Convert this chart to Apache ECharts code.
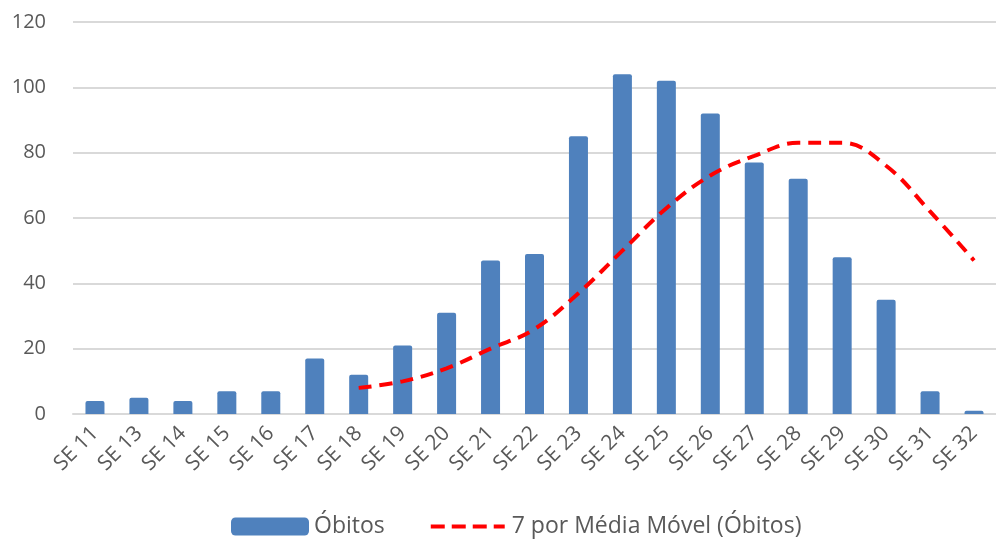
<!DOCTYPE html>
<html>
<head>
<meta charset="utf-8">
<script src="https://cdn.jsdelivr.net/npm/echarts@6/dist/echarts.min.js"></script>
<style>
  html, body { margin: 0; padding: 0; background: #fff; }
  #chart { width: 996px; height: 540px; }
</style>
</head>
<body>
<div id="chart"></div>
<script>
var semanas = ["SE 11", "SE 13", "SE 14", "SE 15", "SE 16", "SE 17", "SE 18", "SE 19", "SE 20", "SE 21", "SE 22",
  "SE 23", "SE 24", "SE 25", "SE 26", "SE 27", "SE 28", "SE 29", "SE 30", "SE 31", "SE 32"];
var obitos = [4, 5, 4, 7, 7, 17, 12, 21, 31, 47, 49, 85, 104, 102, 92, 77, 72, 48, 35, 7, 1];
// média móvel começa em SE 18
var mediaMovel = ["-", "-", "-", "-", "-", "-", 8, 10, 14, 20, 26, 37, 50, 63, 73, 79, 83, 83, 76, 62, 47];
var yTicks = { min: 0, max: 120, interval: 20 };

var fonte = "'Open Sans', 'DejaVu Sans', sans-serif";
// ícone tracejado da legenda (pontinhos nos cantos só para fixar a altura)
var iconeTracejado = "path://M0,-7h0.01v0.01h-0.01Z M0,11h0.01v0.01h-0.01Z " +
  "M0,0h14v4h-14Z M21,0h14v4h-14Z M42,0h14v4h-14Z M63,0h11v4h-11Z";

var chart = echarts.init(document.getElementById("chart"));
chart.setOption({
  animation: false,
  grid: {
    left: 73,
    top: 22,
    width: 936,
    height: 392,
  },
  legend: {
    top: 515,
    left: 231,
    padding: 0,
    itemWidth: 78,
    itemHeight: 18,
    itemGap: 46,
    textStyle: { color: "#595959", fontSize: 23, fontFamily: fonte },
    data: [
      { name: "Óbitos" },
      { name: "7 por Média Móvel (Óbitos)", icon: iconeTracejado },
    ],
  },
  xAxis: {
    type: "category",
    data: semanas,
    axisLine: { lineStyle: { color: "#d9d9d9", width: 2 } },
    axisTick: { show: false },
    axisLabel: {
      color: "#595959",
      fontSize: 21,
      fontFamily: fonte,
      rotate: 45,
      margin: 16,
      interval: 0,
    },
  },
  yAxis: {
    type: "value",
    min: yTicks.min,
    max: yTicks.max,
    interval: yTicks.interval,
    axisLine: { show: false },
    axisTick: { show: false },
    axisLabel: { color: "#595959", fontSize: 20, fontFamily: fonte, margin: 27 },
    splitLine: { lineStyle: { color: "#d9d9d9", width: 2 } },
  },
  series: [
    {
      name: "Óbitos",
      type: "bar",
      data: obitos,
      barWidth: 19,
      itemStyle: { color: "#4F81BD", borderRadius: [2, 2, 0, 0] },
    },
    {
      name: "7 por Média Móvel (Óbitos)",
      type: "line",
      data: mediaMovel,
      smooth: 0.4,
      symbol: "none",
      lineStyle: { color: "#FF0000", width: 4, type: [13, 8] },
      itemStyle: { color: "#FF0000" },
    },
  ],
});
</script>
</body>
</html>
